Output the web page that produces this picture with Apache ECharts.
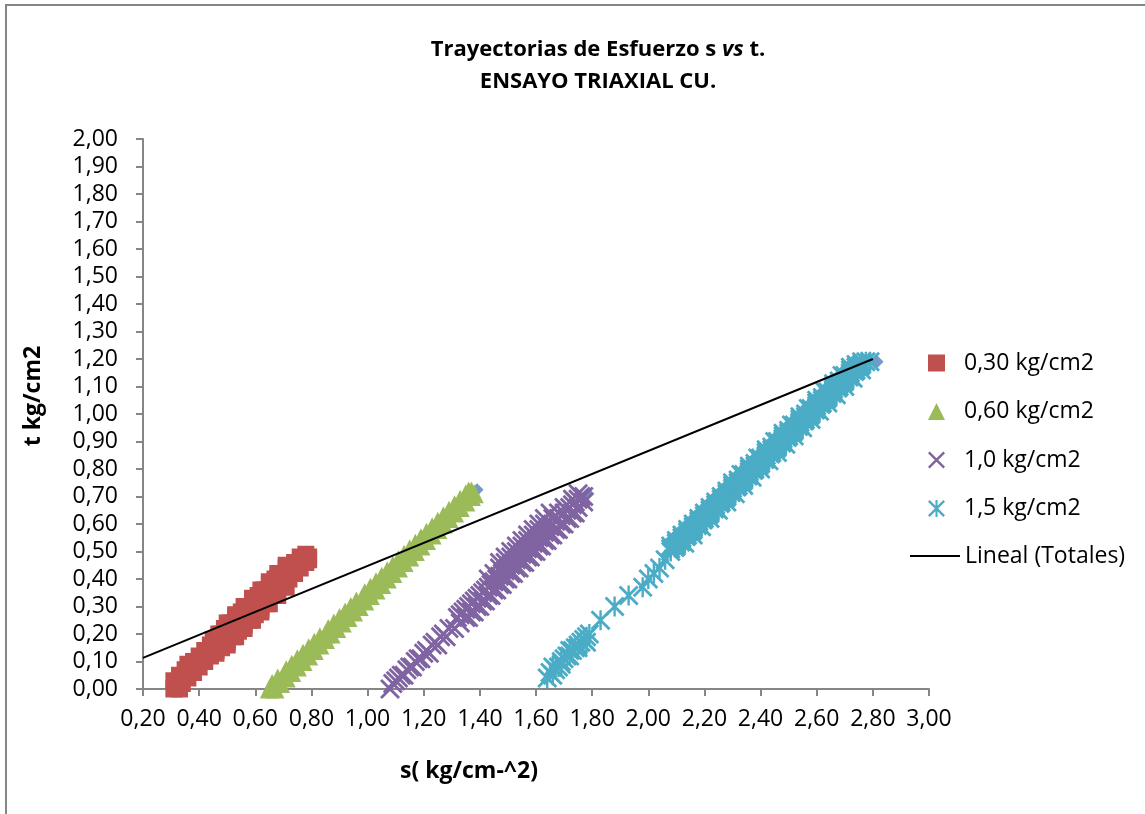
<!DOCTYPE html>
<html>
<head>
<meta charset="utf-8">
<script src="https://cdn.jsdelivr.net/npm/echarts@6/dist/echarts.min.js"></script>
<style>
  html, body { margin: 0; padding: 0; background: #ffffff; }
  #chart { width: 1145px; height: 814px; }
</style>
</head>
<body>
<div id="chart"></div>
<script>
// Stress paths s vs t, CU triaxial test. Each entry is [s, t] in kg/cm2.
const seriesNames = ['0,30 kg/cm2', '0,60 kg/cm2', '1,0 kg/cm2', '1,5 kg/cm2'];
const trendName = 'Lineal (Totales)';

// confining pressure 0,30 kg/cm2
const path030 = [
  [0.31,0.00],[0.33,0.00],[0.34,0.02],[0.36,0.04],[0.38,0.06],[0.40,0.08],[0.42,0.10],[0.44,0.12],
  [0.46,0.14],[0.48,0.16],[0.50,0.18],[0.52,0.20],[0.54,0.22],[0.56,0.24],[0.58,0.26],[0.60,0.28],
  [0.62,0.30],[0.64,0.32],[0.66,0.34],[0.68,0.36],[0.70,0.38],[0.72,0.40],[0.74,0.42],[0.76,0.44],
  [0.78,0.46],[0.79,0.47],[0.79,0.48],[0.78,0.49],
  [0.31,0.03],[0.33,0.05],[0.35,0.07],[0.36,0.09],[0.38,0.10],[0.40,0.12],[0.42,0.14],[0.44,0.16],
  [0.46,0.18],[0.48,0.20],[0.50,0.22],[0.52,0.24],[0.54,0.26],[0.56,0.28],[0.58,0.30],[0.60,0.32],
  [0.62,0.34],[0.64,0.36],[0.66,0.38],[0.68,0.40],[0.70,0.42],[0.72,0.44],[0.74,0.46],[0.76,0.48],
  [0.41,0.11],[0.45,0.15],[0.49,0.19],[0.53,0.23],[0.57,0.27],[0.61,0.31],[0.65,0.35],[0.69,0.39],
  [0.73,0.43],[0.77,0.47],
  [0.45,0.18],[0.47,0.20],[0.49,0.22],[0.51,0.24],[0.53,0.26],[0.55,0.28],[0.57,0.30],[0.59,0.32],
  [0.61,0.34],[0.63,0.36],[0.65,0.38],[0.67,0.40],[0.69,0.42],[0.71,0.44],
  [0.46,0.13],[0.48,0.15],[0.50,0.17],[0.52,0.19],[0.54,0.21],[0.56,0.23],[0.58,0.25],[0.60,0.27],
  [0.62,0.29],[0.64,0.31],
  [0.50,0.24],[0.53,0.27],[0.56,0.30],[0.59,0.33],[0.62,0.36],[0.65,0.39],[0.68,0.42],[0.71,0.45],
  [0.50,0.16],[0.53,0.19],[0.56,0.22],[0.59,0.25],[0.62,0.28],[0.65,0.31],[0.68,0.34],[0.71,0.37]
];

// confining pressure 0,60 kg/cm2
const path060 = [
  [0.66,0.02],[0.68,0.04],[0.70,0.05],[0.71,0.07],[0.73,0.09],[0.75,0.11],[0.77,0.13],[0.79,0.15],
  [0.81,0.17],[0.83,0.19],[0.85,0.20],[0.86,0.22],[0.88,0.24],[0.90,0.26],[0.92,0.28],[0.94,0.30],
  [0.96,0.32],[0.98,0.33],[0.99,0.35],[1.01,0.37],[1.03,0.39],[1.05,0.41],[1.07,0.43],[1.09,0.45],
  [1.11,0.47],[1.13,0.49],[1.15,0.51],[1.17,0.53],[1.19,0.55],[1.21,0.57],[1.23,0.59],[1.25,0.61],
  [1.27,0.63],[1.29,0.65],[1.31,0.67],[1.33,0.69],[1.35,0.71],[1.36,0.72],
  [0.65,0.00],[0.67,0.00],[0.69,0.02],[0.71,0.04],[0.73,0.06],[0.75,0.08],[0.77,0.10],[0.79,0.12],
  [0.81,0.14],[0.83,0.16],[0.85,0.18],[0.87,0.20],[0.89,0.22],[0.91,0.24],[0.93,0.26],[0.95,0.28],
  [0.97,0.30],[0.99,0.32],[1.01,0.34],[1.03,0.36],[1.05,0.38],[1.07,0.40],[1.09,0.42],[1.11,0.44],
  [1.13,0.46],[1.15,0.48],[1.17,0.50],[1.19,0.52],[1.21,0.54],[1.23,0.56],[1.25,0.58],[1.27,0.60],
  [1.29,0.62],[1.31,0.64],[1.33,0.66],[1.35,0.68],[1.37,0.70],[1.38,0.71],[1.37,0.72]
];

// confining pressure 1,0 kg/cm2
const path100 = [
  [1.08,0.00],[1.09,0.02],[1.11,0.04],[1.12,0.05],[1.14,0.07],[1.15,0.08],[1.17,0.10],[1.18,0.11],
  [1.20,0.13],[1.21,0.14],[1.23,0.16],[1.24,0.17],[1.26,0.19],[1.27,0.20],[1.29,0.22],
  [1.10,0.03],[1.13,0.05],[1.16,0.08],[1.19,0.11],[1.22,0.13],[1.25,0.16],[1.28,0.19],
  [1.31,0.22],[1.33,0.24],[1.35,0.26],[1.37,0.28],[1.39,0.30],[1.41,0.32],[1.43,0.34],[1.45,0.36],
  [1.47,0.38],[1.49,0.40],[1.51,0.42],[1.53,0.44],[1.55,0.46],[1.57,0.48],[1.59,0.50],[1.61,0.52],
  [1.63,0.54],[1.65,0.56],[1.67,0.58],[1.69,0.60],[1.71,0.62],[1.73,0.64],[1.75,0.66],[1.77,0.68],
  [1.32,0.26],[1.34,0.28],[1.36,0.30],[1.38,0.32],[1.40,0.34],[1.42,0.36],[1.44,0.38],[1.46,0.40],
  [1.48,0.42],[1.50,0.44],[1.52,0.46],[1.54,0.48],[1.56,0.50],[1.58,0.52],[1.60,0.54],[1.62,0.56],
  [1.64,0.58],[1.66,0.60],[1.68,0.62],[1.70,0.64],[1.72,0.66],[1.74,0.68],[1.76,0.70],
  [1.33,0.27],[1.35,0.29],[1.37,0.31],[1.39,0.33],[1.41,0.35],[1.43,0.37],[1.45,0.39],[1.47,0.41],
  [1.49,0.43],[1.51,0.45],[1.53,0.47],[1.55,0.49],[1.57,0.51],[1.59,0.53],[1.61,0.55],[1.63,0.57],
  [1.65,0.59],[1.67,0.61],[1.69,0.63],[1.71,0.65],[1.73,0.67],[1.75,0.69],
  [1.43,0.40],[1.45,0.42],[1.47,0.44],[1.49,0.46],[1.51,0.48],[1.53,0.50],[1.55,0.52],[1.57,0.54],
  [1.59,0.56],[1.61,0.58],[1.63,0.60],[1.66,0.62],[1.68,0.64],[1.70,0.66],[1.73,0.69],[1.75,0.71],
  [1.77,0.70],
  [1.47,0.46],[1.49,0.48],[1.51,0.50],[1.53,0.52],[1.55,0.54],[1.57,0.56],[1.59,0.58],[1.61,0.60],
  [1.63,0.62],[1.65,0.64],
  [1.36,0.26],[1.38,0.28],[1.40,0.30],[1.42,0.32],[1.44,0.34],[1.46,0.36],[1.48,0.38],[1.50,0.40],
  [1.52,0.42],[1.54,0.44],[1.56,0.46],[1.58,0.48],[1.60,0.50],[1.62,0.52],[1.64,0.54],[1.66,0.56],
  [1.68,0.58],[1.70,0.60],[1.72,0.62],[1.74,0.64]
];

// confining pressure 1,5 kg/cm2
const path150 = [
  [1.64,0.04],[1.65,0.06],[1.66,0.05],[1.67,0.07],[1.68,0.08],[1.69,0.10],[1.70,0.11],[1.71,0.12],
  [1.72,0.12],[1.73,0.14],[1.74,0.15],[1.75,0.16],[1.76,0.17],[1.77,0.18],[1.78,0.19],[1.79,0.20],
  [1.66,0.08],[1.69,0.09],[1.72,0.14],[1.75,0.15],[1.78,0.17],
  [1.83,0.25],[1.88,0.30],[1.93,0.34],[1.98,0.37],[2.00,0.40],[2.02,0.42],[2.04,0.44],[2.06,0.47],
  [2.08,0.51],[2.10,0.53],[2.12,0.55],[2.14,0.57],[2.16,0.59],[2.18,0.61],[2.20,0.63],[2.22,0.65],
  [2.24,0.67],[2.26,0.69],[2.28,0.71],[2.30,0.73],[2.32,0.75],[2.34,0.77],[2.36,0.79],[2.38,0.81],
  [2.40,0.83],[2.42,0.85],[2.44,0.87],[2.46,0.89],[2.48,0.91],[2.50,0.93],[2.52,0.95],[2.54,0.97],
  [2.56,0.99],[2.58,1.01],[2.60,1.03],[2.62,1.05],[2.64,1.07],[2.66,1.09],[2.68,1.11],[2.70,1.13],
  [2.72,1.15],[2.74,1.17],[2.76,1.19],
  [2.095,0.515],[2.115,0.535],[2.135,0.555],[2.155,0.575],[2.175,0.595],[2.195,0.615],[2.215,0.635],
  [2.235,0.655],[2.255,0.675],[2.275,0.695],[2.295,0.715],[2.315,0.735],[2.335,0.755],[2.355,0.775],
  [2.375,0.795],[2.395,0.815],[2.415,0.835],[2.435,0.855],[2.455,0.875],[2.475,0.895],[2.495,0.915],
  [2.515,0.935],[2.535,0.955],[2.555,0.975],[2.575,0.995],[2.595,1.015],[2.615,1.035],[2.635,1.055],
  [2.655,1.075],[2.675,1.095],[2.695,1.115],[2.715,1.135],[2.735,1.155],[2.755,1.175],[2.775,1.19],
  [2.79,1.19],
  [2.08,0.52],[2.10,0.54],[2.12,0.56],[2.14,0.58],[2.16,0.60],[2.18,0.62],[2.20,0.64],[2.22,0.66],
  [2.24,0.68],[2.26,0.70],[2.28,0.72],[2.30,0.74],[2.32,0.76],[2.34,0.78],[2.36,0.80],[2.38,0.82],
  [2.40,0.84],[2.42,0.86],[2.44,0.88],[2.46,0.90],[2.48,0.92],[2.50,0.94],[2.52,0.96],[2.54,0.98],
  [2.56,1.00],[2.58,1.02],[2.60,1.04],[2.62,1.06],[2.64,1.08],[2.66,1.10],[2.68,1.12],[2.70,1.14],
  [2.72,1.16],[2.74,1.18],
  [2.08,0.50],[2.10,0.52],[2.12,0.54],[2.14,0.56],[2.16,0.58],[2.18,0.60],[2.20,0.62],[2.22,0.64],
  [2.24,0.66],[2.26,0.68],[2.28,0.70],[2.30,0.72],[2.32,0.74],[2.34,0.76],[2.36,0.78],[2.38,0.80],
  [2.40,0.82],[2.42,0.84],[2.44,0.86],[2.46,0.88],[2.48,0.90],[2.50,0.92],[2.52,0.94],[2.54,0.96],
  [2.56,0.98],[2.58,1.00],[2.60,1.02],[2.62,1.04],[2.64,1.06],[2.66,1.08],[2.68,1.10],[2.70,1.12],
  [2.72,1.14],[2.74,1.16],[2.76,1.18],
  [2.13,0.53],[2.16,0.56],[2.19,0.59],[2.22,0.62],[2.25,0.65],[2.28,0.68],[2.31,0.71],[2.34,0.74],
  [2.37,0.77],[2.40,0.80],[2.43,0.83],[2.46,0.86],[2.49,0.89],[2.52,0.92],[2.55,0.95],[2.58,0.98],
  [2.61,1.01],[2.64,1.04],[2.67,1.07],[2.70,1.10],[2.73,1.13],[2.76,1.16],
  [2.30,0.75],[2.33,0.78],[2.36,0.81],[2.39,0.84],[2.42,0.87],[2.45,0.90],[2.48,0.93],[2.51,0.96],
  [2.54,0.99],[2.57,1.02],[2.60,1.05],[2.63,1.08],[2.66,1.11],[2.69,1.14],[2.72,1.17]
];

// failure points of the four specimens ("Totales")
const totales = [[0.79,0.48],[1.39,0.725],[1.785,0.71],[2.815,1.19]];

// linear trend of the failure points, drawn between its two ends
const trendLine = [[0.20,0.113],[2.80,1.20]];

const colors = ['#C0504D', '#9BBB59', '#8064A2', '#4BACC6'];
const totalesColor = '#4F81BD';

// marker shapes: x and asterisk built as filled bars
const xMark = 'path://M10,0L100,90L90,100L0,10ZM0,90L90,0L100,10L10,100Z';
const starMark = 'path://M10,0L100,90L90,100L0,10ZM0,90L90,0L100,10L10,100ZM44,0L56,0L56,100L44,100Z';
const symbols = ['rect', 'triangle', xMark, starMark];
const symbolSizes = [17, 19, 20, 20];
const legendIcons = ['rect', 'triangle', xMark, starMark];
const paths = [path030, path060, path100, path150];

const fmt = v => v.toFixed(2).replace('.', ',');
const FONT = '"Open Sans", "Noto Sans", sans-serif';
const axisGrey = '#868686';

const chart = echarts.init(document.getElementById('chart'), null, { renderer: 'canvas' });

const series = [{
  name: 'Totales',
  type: 'scatter',
  data: totales,
  symbol: 'diamond',
  symbolSize: 13,
  itemStyle: { color: totalesColor },
  z: 2
}];
paths.forEach((p, i) => {
  series.push({
    name: seriesNames[i],
    type: 'scatter',
    data: p,
    symbol: symbols[i],
    symbolSize: symbolSizes[i],
    itemStyle: { color: colors[i], opacity: 1 },
    z: 2
  });
});
series.push({
  name: trendName,
  type: 'line',
  data: trendLine,
  symbol: 'none',
  color: '#000000',
  lineStyle: { color: '#000000', width: 2 },
  z: 4
});

chart.setOption({
  animation: false,
  backgroundColor: '#ffffff',
  title: {
    text: '{b|Trayectorias de Esfuerzo s }{i|vs}{b| t.}\n{b|ENSAYO TRIAXIAL CU.}',
    left: 593,
    top: 29,
    textAlign: 'center',
    textStyle: {
      lineHeight: 32,
      rich: {
        b: { fontFamily: FONT, fontSize: 22, fontWeight: 'bold', color: '#000', lineHeight: 32 },
        i: { fontFamily: FONT, fontSize: 22, fontWeight: 'bold', fontStyle: 'italic', color: '#000', lineHeight: 32 }
      }
    }
  },
  legend: [{
    orient: 'vertical',
    left: 923,
    top: 346,
    itemWidth: 17,
    itemHeight: 17,
    itemGap: 24.5,
    selectedMode: false,
    data: seriesNames.map((n, i) => ({ name: n, icon: legendIcons[i] })),
    textStyle: { fontFamily: FONT, fontSize: 23, color: '#000', lineHeight: 24, padding: [0, 0, 0, 14] }
  }, {
    orient: 'vertical',
    left: 905,
    top: 539,
    itemWidth: 50,
    itemHeight: 2,
    selectedMode: false,
    data: [{ name: trendName, icon: 'rect' }],
    textStyle: { fontFamily: FONT, fontSize: 23, color: '#000', lineHeight: 24 }
  }],
  grid: { left: 143, right: 216, top: 139, bottom: 125, containLabel: false },
  xAxis: {
    type: 'value',
    min: 0.2,
    max: 3.0,
    interval: 0.2,
    axisLine: { show: true, onZero: false, lineStyle: { color: axisGrey, width: 2 } },
    axisTick: { show: true, inside: false, length: 7, lineStyle: { color: axisGrey, width: 2 } },
    splitLine: { show: false },
    axisLabel: { margin: 19, fontFamily: FONT, fontSize: 23, color: '#000', formatter: fmt }
  },
  yAxis: {
    type: 'value',
    min: 0,
    max: 2.0,
    interval: 0.1,
    axisLine: { show: true, lineStyle: { color: axisGrey, width: 2 } },
    axisTick: { show: true, inside: false, length: 7, lineStyle: { color: axisGrey, width: 2 } },
    splitLine: { show: false },
    axisLabel: { margin: 25, fontFamily: FONT, fontSize: 23, color: '#000', formatter: fmt }
  },
  graphic: [{
    type: 'rect',
    silent: true,
    shape: { x: 6, y: 5, width: 1300, height: 1000 },
    style: { fill: 'none', stroke: axisGrey, lineWidth: 2 }
  }, {
    type: 'text',
    x: 469,
    y: 771,
    style: {
      text: 's( kg/cm-^2)', fill: '#000', font: 'bold 23px ' + FONT,
      textAlign: 'center', textVerticalAlign: 'middle'
    }
  }, {
    type: 'text',
    x: 33,
    y: 396,
    rotation: Math.PI / 2,
    style: {
      text: 't kg/cm2', fill: '#000', font: 'bold 23px ' + FONT,
      textAlign: 'center', textVerticalAlign: 'middle'
    }
  }],
  series: series
});
</script>
</body>
</html>
